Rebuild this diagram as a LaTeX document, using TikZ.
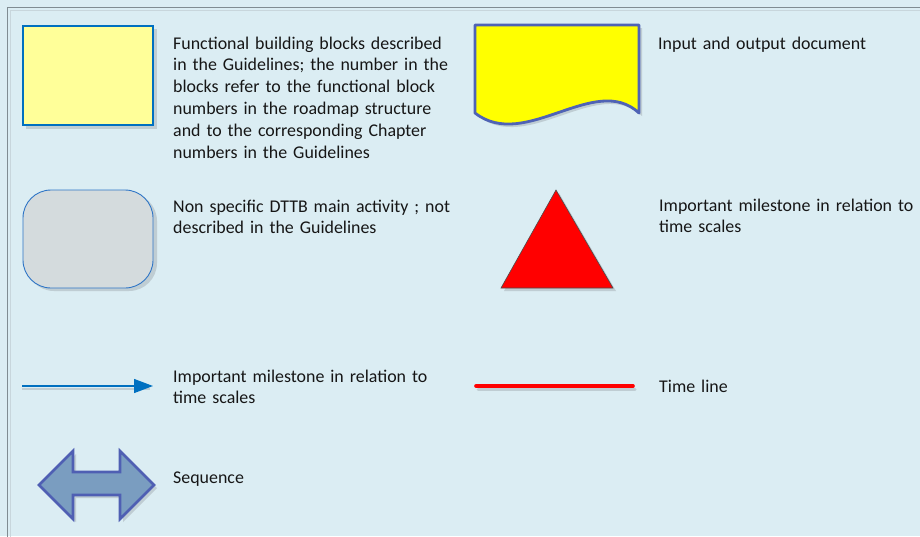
\documentclass[tikz,border=0pt]{standalone}
\usepackage{fontspec}
\setmainfont{Carlito}
\usetikzlibrary{arrows.meta}

\definecolor{bgcol}{HTML}{DBEDF3}
\definecolor{framedark}{HTML}{808C92}
\definecolor{framelight}{HTML}{C8D6DC}
\definecolor{shadowc}{HTML}{BFCDD3}
\definecolor{blockfill}{HTML}{FFFF99}
\definecolor{blockline}{HTML}{0070C0}
\definecolor{docfill}{HTML}{FFFF00}
\definecolor{docline}{HTML}{4F63B5}
\definecolor{actfill}{HTML}{D4DBDD}
\definecolor{actline}{HTML}{2E75C6}
\definecolor{seqfill}{HTML}{7A9DC0}
\definecolor{seqline}{HTML}{4F5FB3}
\definecolor{txtcol}{HTML}{161616}

\tikzset{
  legendtext/.style={anchor=base west, inner sep=0pt, text width=300pt, align=left,
    text=txtcol, font=\fontsize{17.9}{21.8}\selectfont},
  shadowfill/.style={fill=shadowc, draw=none},
}

\begin{document}
\begin{tikzpicture}[x=1pt, y=-1pt]
  \useasboundingbox (0,0) rectangle (920,536);
  \clip (0,0) rectangle (920,536);
  \fill[bgcol] (0,0) rectangle (920,536);

  % outer frame, running past the right and bottom edges
  \draw[framelight, line width=1.2pt] (10.5,10.5) rectangle (960,580);
  \draw[framedark, line width=1.6pt] (7.5,7.5) rectangle (960,580);

  % functional building block
  \fill[shadowfill] (26,29) rectangle (157,129);
  \draw[blockline, fill=blockfill, line width=2.4pt] (23,26) rectangle (153,125);

  % input / output document
  \fill[shadowfill] (478,28) -- (642,28) -- (642,116)
     .. controls (598,75) and (528,155) .. (478,116) -- cycle;
  \draw[docline, fill=docfill, line width=2.8pt, line join=round]
     (475,25) -- (639,25) -- (639,113)
     .. controls (595,72) and (525,152) .. (475,113) -- cycle;

  % non specific activity
  \fill[shadowfill, rounded corners=28pt] (26,193) rectangle (157,291);
  \draw[actline, fill=actfill, line width=0.9pt, rounded corners=28pt] (23,190) rectangle (153,288);

  % milestone triangle
  \fill[shadowfill] (559,193) -- (616,291) -- (504,291) -- cycle;
  \draw[black!70, fill=red, line width=0.6pt] (556,190) -- (613,288) -- (501,288) -- cycle;

  % arrow
  \coordinate (arrA) at (22,386);
  \coordinate (arrB) at (153,386);
  \draw[shadowc, line width=1.2pt] (22,389) -- (150,389);
  \draw[blockline, line width=1.3pt, -{Triangle[length=19pt, width=14pt]}] (arrA) -- (arrB);

  % time line
  \coordinate (tlA) at (476,386);
  \coordinate (tlB) at (633,386);
  \draw[shadowc, line width=3pt, line cap=round] (478,389.5) -- (635,389.5);
  \draw[red, line width=3.6pt, line cap=round] (tlA) -- (tlB);

  % sequence double arrow
  \fill[shadowfill] (42,488) -- (76,454) -- (76,475) -- (123,475) -- (123,454) -- (157,488)
     -- (123,522) -- (123,498) -- (76,498) -- (76,522) -- cycle;
  \draw[seqline, fill=seqfill, line width=2.6pt, line join=miter]
     (39,485) -- (73,451) -- (73,472) -- (120,472) -- (120,451) -- (154,485)
     -- (120,519) -- (120,495) -- (73,495) -- (73,519) -- cycle;

  % legend texts
  \node[legendtext] (tBlock) at (173,49) {Functional building blocks described\\
    in the Guidelines; the number in the\\
    blocks refer to the functional block\\
    numbers in the roadmap structure\\
    and to the corresponding Chapter\\
    numbers in the Guidelines};
  \node[legendtext] (tDoc) at (658,49) {Input and output document};
  \node[legendtext] (tAct) at (173,212) {Non specific DTTB main activity ; not\\
    described in the Guidelines};
  \node[legendtext] (tMile) at (659,211) {Important milestone in relation to\\
    time scales};
  \node[legendtext] (tArrow) at (173,382) {Important milestone in relation to\\
    time scales};
  \node[legendtext] (tTime) at (659,392) {Time line};
  \node[legendtext] (tSeq) at (173,483) {Sequence};
\end{tikzpicture}
\end{document}
